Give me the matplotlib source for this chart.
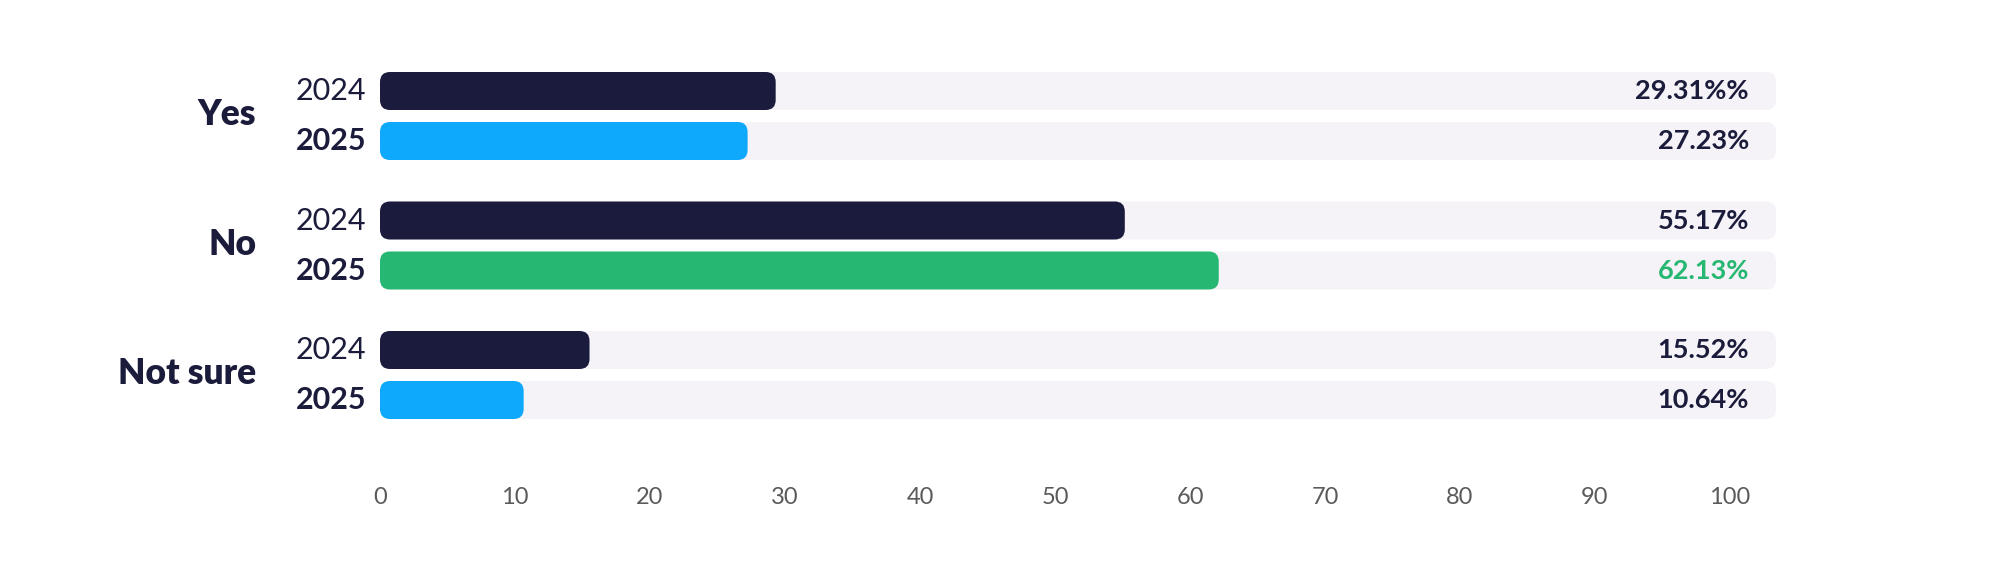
import matplotlib.pyplot as plt
from matplotlib.patches import FancyBboxPatch

# Datos del gráfico
groups = ["Yes", "No", "Not sure"]
years = ["2024", "2025"]
vals_2024 = [29.31, 55.17, 15.52]
vals_2025 = [27.23, 62.13, 10.64]
labels_2024 = ["29.31%%", "55.17%", "15.52%"]
labels_2025 = ["27.23%", "62.13%", "10.64%"]
ticks = [0, 10, 20, 30, 40, 50, 60, 70, 80, 90, 100]

# Colores
NAVY = "#1a1b3d"
BLUE = "#0ea8fc"
GREEN = "#26b872"
TRACK = "#f5f3f7"
TEXT = "#1b1b3b"
colors_2025 = [BLUE, GREEN, BLUE]
text_colors_2025 = [TEXT, GREEN, TEXT]

plt.rcParams["font.family"] = ["Lato", "DejaVu Sans"]

W, H = 2002, 574
fig = plt.figure(figsize=(W / 100, H / 100), dpi=100)
fig.patch.set_facecolor("white")

# Geometría (pixeles)
ax_left, ax_right = 380, 1776
ax_top, ax_bottom = 60, 440
px_per_x = 13.5   # pixeles por unidad en x
px_per_y = 50     # pixeles por unidad en y
ax = fig.add_axes([ax_left / W, 1 - ax_bottom / H,
                   (ax_right - ax_left) / W, (ax_bottom - ax_top) / H])
xmax = (ax_right - ax_left) / px_per_x
y_top = -(91 - ax_top) / px_per_y
ax.set_xlim(0, xmax)
ax.set_ylim(y_top + (ax_bottom - ax_top) / px_per_y, y_top)
for s in ax.spines.values():
    s.set_visible(False)
ax.set_yticks([])

bar_h = 38 / px_per_y
radius = 10 / px_per_x
aspect = (10 / px_per_y) / radius
group_step = 2.59


def rounded_bar(x0, yc, w, color, z):
    p = FancyBboxPatch((x0, yc - bar_h / 2), w, bar_h,
                       boxstyle=f"round,pad=0,rounding_size={radius}",
                       mutation_aspect=aspect, fc=color, ec="none", zorder=z)
    ax.add_patch(p)


tr = ax.get_yaxis_transform()
for i, g in enumerate(groups):
    y0 = i * group_step
    y1 = y0 + 1
    # fondos
    rounded_bar(0, y0, xmax, TRACK, 1)
    rounded_bar(0, y1, xmax, TRACK, 1)
    # barras
    rounded_bar(0, y0, vals_2024[i], NAVY, 2)
    rounded_bar(0, y1, vals_2025[i], colors_2025[i], 2)

    ax.text(-0.0888, y0 + 0.47, g, transform=tr, ha="right", va="center",
            fontsize=25.5, fontweight="heavy", color=TEXT)
    ax.text(-0.010, y0, years[0], transform=tr, ha="right", va="center",
            fontsize=22, color=TEXT)
    ax.text(-0.010, y1, years[1], transform=tr, ha="right", va="center",
            fontsize=22, fontweight="bold", color=TEXT)
    ax.text(0.9806, y0, labels_2024[i], transform=tr, ha="right", va="center",
            fontsize=19.5, fontweight="bold", color=TEXT, zorder=3)
    ax.text(0.9806, y1, labels_2025[i], transform=tr, ha="right", va="center",
            fontsize=19.5, fontweight="bold", color=text_colors_2025[i], zorder=3)

ax.set_xticks(ticks)
ax.set_xticklabels([str(t) for t in ticks])
ax.tick_params(axis="x", length=0, pad=34, labelsize=17, labelcolor="#5a5a5a")

fig.savefig("out.png", dpi=100, facecolor="white")
